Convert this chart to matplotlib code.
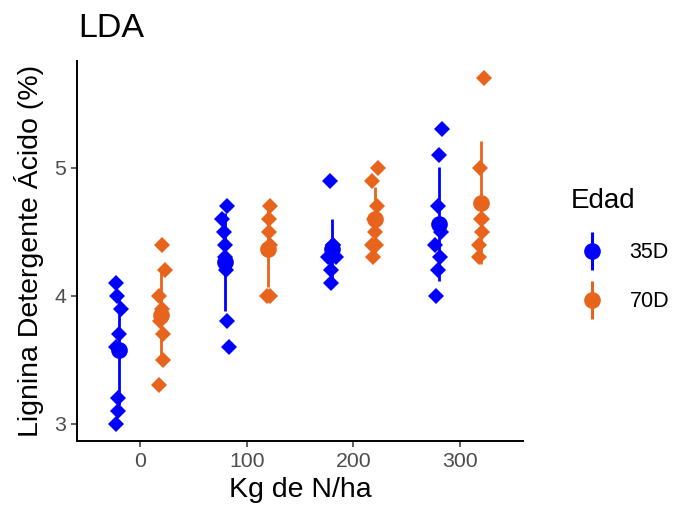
import numpy as np
import matplotlib
matplotlib.use("Agg")
import matplotlib.pyplot as plt
from matplotlib.lines import Line2D
from matplotlib.legend_handler import HandlerTuple

plt.rcParams['font.family'] = ['Liberation Sans', 'DejaVu Sans']

# ---- data ----
doses = [0, 100, 200, 300]
edades = ["35D", "70D"]
colores = {"35D": "#0000FF", "70D": "#E8631C"}

lda_35D_0 = [4.1, 4.0, 3.9, 3.7, 3.6, 3.2, 3.1, 3.0]
lda_35D_100 = [4.7, 4.6, 4.5, 4.4, 4.3, 4.2, 3.8, 3.6]
lda_35D_200 = [4.9, 4.4, 4.4, 4.3, 4.3, 4.3, 4.2, 4.1]
lda_35D_300 = [5.3, 5.1, 4.7, 4.5, 4.4, 4.3, 4.2, 4.0]

lda_70D_0 = [4.4, 4.2, 4.0, 3.9, 3.8, 3.7, 3.5, 3.3]
lda_70D_100 = [4.7, 4.6, 4.5, 4.4, 4.0, 4.0]
lda_70D_200 = [5.0, 4.9, 4.7, 4.6, 4.5, 4.4, 4.4, 4.3]
lda_70D_300 = [5.7, 5.0, 4.6, 4.6, 4.5, 4.4, 4.3]

datos = {
    "35D": [lda_35D_0, lda_35D_100, lda_35D_200, lda_35D_300],
    "70D": [lda_70D_0, lda_70D_100, lda_70D_200, lda_70D_300],
}
dodge = {"35D": -20, "70D": 20}

fig = plt.figure(figsize=(6.74, 5.13), dpi=100)
ax = fig.add_axes([77 / 674, 1 - 441 / 513, (523 - 77) / 674, (441 - 61) / 513])

rng = np.random.default_rng(3)
for ed in edades:
    col = colores[ed]
    for d, vals in zip(doses, datos[ed]):
        vals = np.asarray(vals)
        xc = d + dodge[ed]
        jit = rng.uniform(-3.5, 3.5, len(vals))
        ax.plot(xc + jit, vals, linestyle="none", marker="D", ms=7.8,
                mew=0, color=col, zorder=2)
    for d, vals in zip(doses, datos[ed]):
        vals = np.asarray(vals)
        xc = d + dodge[ed]
        m = vals.mean()
        s = vals.std(ddof=1)
        ax.plot([xc, xc], [m - s, m + s], color=col, lw=2, zorder=3,
                solid_capstyle="butt")
        ax.plot([xc], [m], marker="o", ms=12, mew=0, color=col, zorder=4)

ax.set_xlim(-59, 359)
ax.set_ylim(2.865, 5.835)
ax.set_xticks(doses)
ax.set_yticks([3, 4, 5])
for sp in ["top", "right"]:
    ax.spines[sp].set_visible(False)
for sp in ["left", "bottom"]:
    ax.spines[sp].set_linewidth(1.4)
    ax.spines[sp].set_color("black")
ax.tick_params(axis="both", length=4, width=1.1, color="#333333",
               labelcolor="#4D4D4D", labelsize=15.3, pad=4)

ax.set_xlabel("Kg de N/ha", fontsize=20.5, color="black", labelpad=4)
ax.set_ylabel("Lignina Detergente Ácido (%)", fontsize=20.5, color="black",
              labelpad=7)
fig.text(78 / 674, 1 - 37 / 513, "LDA", fontsize=24.5, va="baseline",
         ha="left", color="black")

handles = []
for ed in edades:
    col = colores[ed]
    h_line = Line2D([], [], linestyle="none", marker="|", ms=27, mew=2.2,
                    color=col)
    h_pt = Line2D([], [], linestyle="none", marker="o", ms=12, mew=0,
                  color=col)
    handles.append((h_line, h_pt))

leg = fig.legend(handles, edades, title="Edad", loc="upper left",
                 bbox_to_anchor=(551 / 674, 1 - 169 / 513), frameon=False,
                 handler_map={tuple: HandlerTuple(ndivide=1)},
                 fontsize=15.5, title_fontsize=20, handlelength=2.0,
                 handletextpad=0.75, labelspacing=1.3, alignment="left")

fig.savefig("out.png", dpi=100)
